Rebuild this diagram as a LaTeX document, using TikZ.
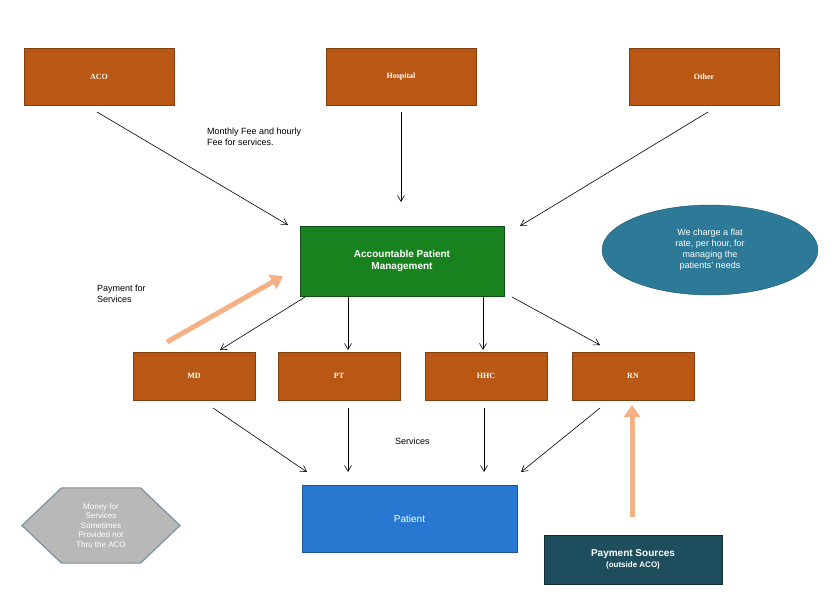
\documentclass[tikz,border=0pt]{standalone}
\usepackage{fontspec}
\setmainfont{Liberation Sans}
\newfontfamily\boxfont{Liberation Serif}
\usetikzlibrary{shapes.geometric,arrows.meta}
\definecolor{rust}{RGB}{184,88,20}
\definecolor{apmgreen}{RGB}{24,130,30}
\definecolor{ptblue}{RGB}{40,120,210}
\definecolor{teal}{RGB}{44,122,152}
\definecolor{darkteal}{RGB}{30,78,94}
\definecolor{peach}{RGB}{244,177,131}
\tikzset{
  party/.style={draw=rust!70!black, fill=rust, inner sep=0pt, text=white, font=\boxfont\bfseries\footnotesize},
  flow/.style={-{Straight Barb[length=6pt,width=7pt]}, line width=0.6pt},
  bigflow/.style={-{Triangle[length=12pt,width=16pt]}, line width=5pt, draw=peach},
  note/.style={font=\small, align=left, anchor=north west, inner sep=0pt}
}
\begin{document}
\begin{tikzpicture}[x=1pt,y=-1pt]
\useasboundingbox (0,0) rectangle (840,614);
\fill[white] (0,0) rectangle (840,614);
% payers
\node[party, minimum width=150, minimum height=57] (aco) at (99,76.5) {ACO};
\node[party, minimum width=150, minimum height=57] (hosp) at (401,76.5) {Hospital};
\node[party, minimum width=150, minimum height=57] (other) at (704,76.5) {Other};
% central
\node[draw=apmgreen!60!black, fill=apmgreen, minimum width=204, minimum height=70, text=white, font=\bfseries, align=center] (apm) at (402,261) {Accountable Patient\\Management};
\node[ellipse, draw=teal!70!black, fill=teal, minimum width=216, minimum height=90, text=white, font=\small, align=center] (rate) at (710,250) {We charge a flat\\rate, per hour, for\\managing the\\patients' needs};
% providers
\node[party, minimum width=122, minimum height=48] (md) at (194,376) {MD};
\node[party, minimum width=122, minimum height=48] (pt) at (339,376) {PT};
\node[party, minimum width=122, minimum height=48] (hhc) at (486,376) {HHC};
\node[party, minimum width=122, minimum height=48] (rn) at (633,376) {RN};
\node[draw=ptblue!70!black, fill=ptblue, minimum width=215, minimum height=67, text=white] (patient) at (409.5,518.5) {Patient};
\node[regular polygon, regular polygon sides=6, shape border rotate=0, draw=darkteal!60, line width=1.2pt, fill=black!28, minimum size=158, inner sep=0pt, yscale=0.55, text=white] (money) at (101,525.5) {};
\node[text=white, font=\footnotesize, align=center] at (money) {Money for\\Services\\Sometimes\\Provided not\\Thru the ACO};
\node[draw=darkteal!60!black, fill=darkteal, minimum width=178, minimum height=49, text=white, align=center, inner sep=0pt] (pay) at (633,559.5) {\bfseries Payment Sources\\[-1pt]{\footnotesize\bfseries (outside ACO)}};
% labels
\node[note] (fee) at (207,128) {Monthly Fee and hourly\\Fee for services.};
\node[note] (payfor) at (97,285) {Payment for\\Services};
\node[note] (serv) at (395,438) {Services};
% connectors
\coordinate (a1) at (97,112);
\coordinate (h1) at (401,112);
\coordinate (o1) at (708,112);
\draw[flow] (a1) -- (288,225);
\draw[flow] (h1) -- (401,202);
\draw[flow] (o1) -- (520,226);
\draw[flow] (305,297) -- (220,350);
\draw[flow] (348,297) -- (348,350);
\draw[flow] (483,297) -- (483,350);
\draw[flow] (512,297) -- (600,345);
\draw[flow] (213,408) -- (307,472);
\draw[flow] (348,408) -- (348,472);
\draw[flow] (484,408) -- (484,472);
\draw[flow] (600,408) -- (521,472);
\draw[bigflow] (167,342) -- (283,276);
\draw[bigflow] (632,517) -- (632,405);
\end{tikzpicture}
\end{document}
